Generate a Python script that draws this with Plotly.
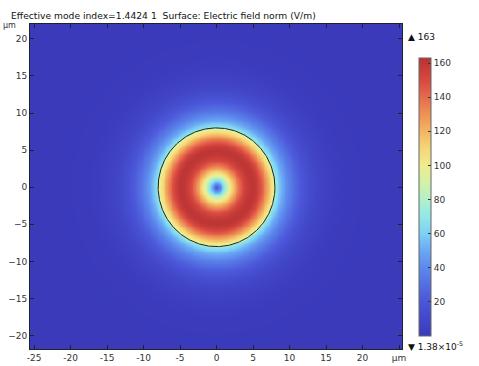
import numpy as np
import plotly.graph_objects as go

# ---- data ----
title_text = "Effective mode index=1.4424 1  Surface: Electric field norm (V/m)"
# radial profile of |E| (V/m) vs radius (um), read along a cut through the centre
radius_um = [0, 0.5, 1.0, 1.5, 2.0, 2.5, 3.0, 3.5, 4.0, 4.5, 5.0, 5.5, 6.0, 6.5,
             7.0, 7.5, 7.99, 8.01, 8.5, 9.0, 10.0, 11.0, 12.0, 13.0, 14.0, 16.0,
             18.0, 20.0, 25.0, 40.0]
field_vm = [18, 42, 68, 90, 108, 124, 138, 149, 156, 160, 161, 157, 148, 136,
            122, 106, 94, 72, 60, 50, 36, 25, 17, 11, 7, 3.0, 1.2, 0.5, 0.03, 0.0]
core_radius = 8.0
field_max = 163
field_min_label = "1.38×10<sup>-5</sup>"
x_range = [-25.55, 25.4]
y_range = [-21.8, 22.0]
x_ticks = [-25, -20, -15, -10, -5, 0, 5, 10, 15, 20, 25]
x_ticktext = ["-25", "-20", "-15", "-10", "-5", "0", "5", "10", "15", "20", "µm"]
y_ticks = [-20, -15, -10, -5, 0, 5, 10, 15, 20]
cb_ticks = [20, 40, 60, 80, 100, 120, 140, 160]

# ---- grid ----
xs = np.arange(-25.6, 25.5, 0.12)
ys = np.arange(-22.1, 22.2, 0.12)
XX, YY = np.meshgrid(xs, ys)
RR = np.sqrt(XX**2 + YY**2)
Z = np.interp(RR, radius_um, field_vm)

colorscale = [
    [0.00, "#3a3abb"],
    [0.123, "#4b56d8"],
    [0.245, "#5c88ec"],
    [0.307, "#6aa8f4"],
    [0.368, "#7ed0f4"],
    [0.43, "#92e8e6"],
    [0.49, "#b2f0c8"],
    [0.55, "#d2f1a8"],
    [0.613, "#efec8e"],
    [0.675, "#f5d678"],
    [0.736, "#f3b562"],
    [0.80, "#ee9055"],
    [0.86, "#e66a4c"],
    [0.92, "#d84840"],
    [1.00, "#b83232"],
]

PL, PT, PW, PH = 30, 24, 372, 325  # plot area in pixels

fig = go.Figure()
fig.add_trace(go.Heatmap(
    x=xs, y=ys, z=Z, zmin=0, zmax=field_max, zsmooth="best",
    colorscale=colorscale,
    colorbar=dict(
        x=(419 - PL) / PW, xanchor="left", xpad=0,
        y=(PT + PH - 336) / PH, yanchor="bottom", ypad=0,
        len=278, lenmode="pixels", thickness=12, thicknessmode="pixels",
        outlinewidth=1, outlinecolor="#666",
        tickvals=cb_ticks, ticks="inside", ticklen=3, tickcolor="#333",
        tickfont=dict(family="DejaVu Sans", size=9, color="#333"),
    ),
    hoverinfo="skip",
))

theta = np.linspace(0, 2 * np.pi, 361)
fig.add_trace(go.Scatter(
    x=core_radius * np.cos(theta), y=core_radius * np.sin(theta),
    mode="lines", line=dict(color="#222", width=1), showlegend=False,
    hoverinfo="skip",
))

axis_common = dict(
    showgrid=False, zeroline=False, showline=True, linecolor="#222",
    linewidth=1, mirror="ticks", ticks="inside", ticklen=4, tickcolor="#222",
    tickfont=dict(family="DejaVu Sans", size=9, color="#333"), automargin=False,
)
fig.update_layout(
    width=479, height=366,
    margin=dict(l=PL, r=479 - PL - PW, t=PT, b=366 - PT - PH, autoexpand=False),
    paper_bgcolor="white", plot_bgcolor="white",
    xaxis=dict(range=x_range, tickvals=x_ticks, ticktext=x_ticktext, **axis_common),
    yaxis=dict(range=y_range, tickvals=y_ticks, **axis_common),
    showlegend=False,
    annotations=[
        dict(text=title_text, xref="paper", yref="paper",
             x=(9 - PL) / PW, y=(PT + PH - 15) / PH, xanchor="left", yanchor="middle",
             showarrow=False, font=dict(family="DejaVu Sans", size=9.2, color="#111")),
        dict(text="µm", xref="paper", yref="paper",
             x=(1 - PL) / PW, y=(PT + PH - 25) / PH, xanchor="left", yanchor="middle",
             showarrow=False, font=dict(family="DejaVu Sans", size=8, color="#333")),
        dict(text="▲ " + str(field_max), xref="paper", yref="paper",
             x=(406 - PL) / PW, y=(PT + PH - 37) / PH, xanchor="left", yanchor="middle",
             showarrow=False, font=dict(family="DejaVu Sans", size=9, color="#111")),
        dict(text="▼ " + field_min_label, xref="paper", yref="paper",
             x=(406 - PL) / PW, y=(PT + PH - 346) / PH, xanchor="left", yanchor="middle",
             showarrow=False, font=dict(family="DejaVu Sans", size=9, color="#111")),
    ],
)

fig.write_html("out.html")
